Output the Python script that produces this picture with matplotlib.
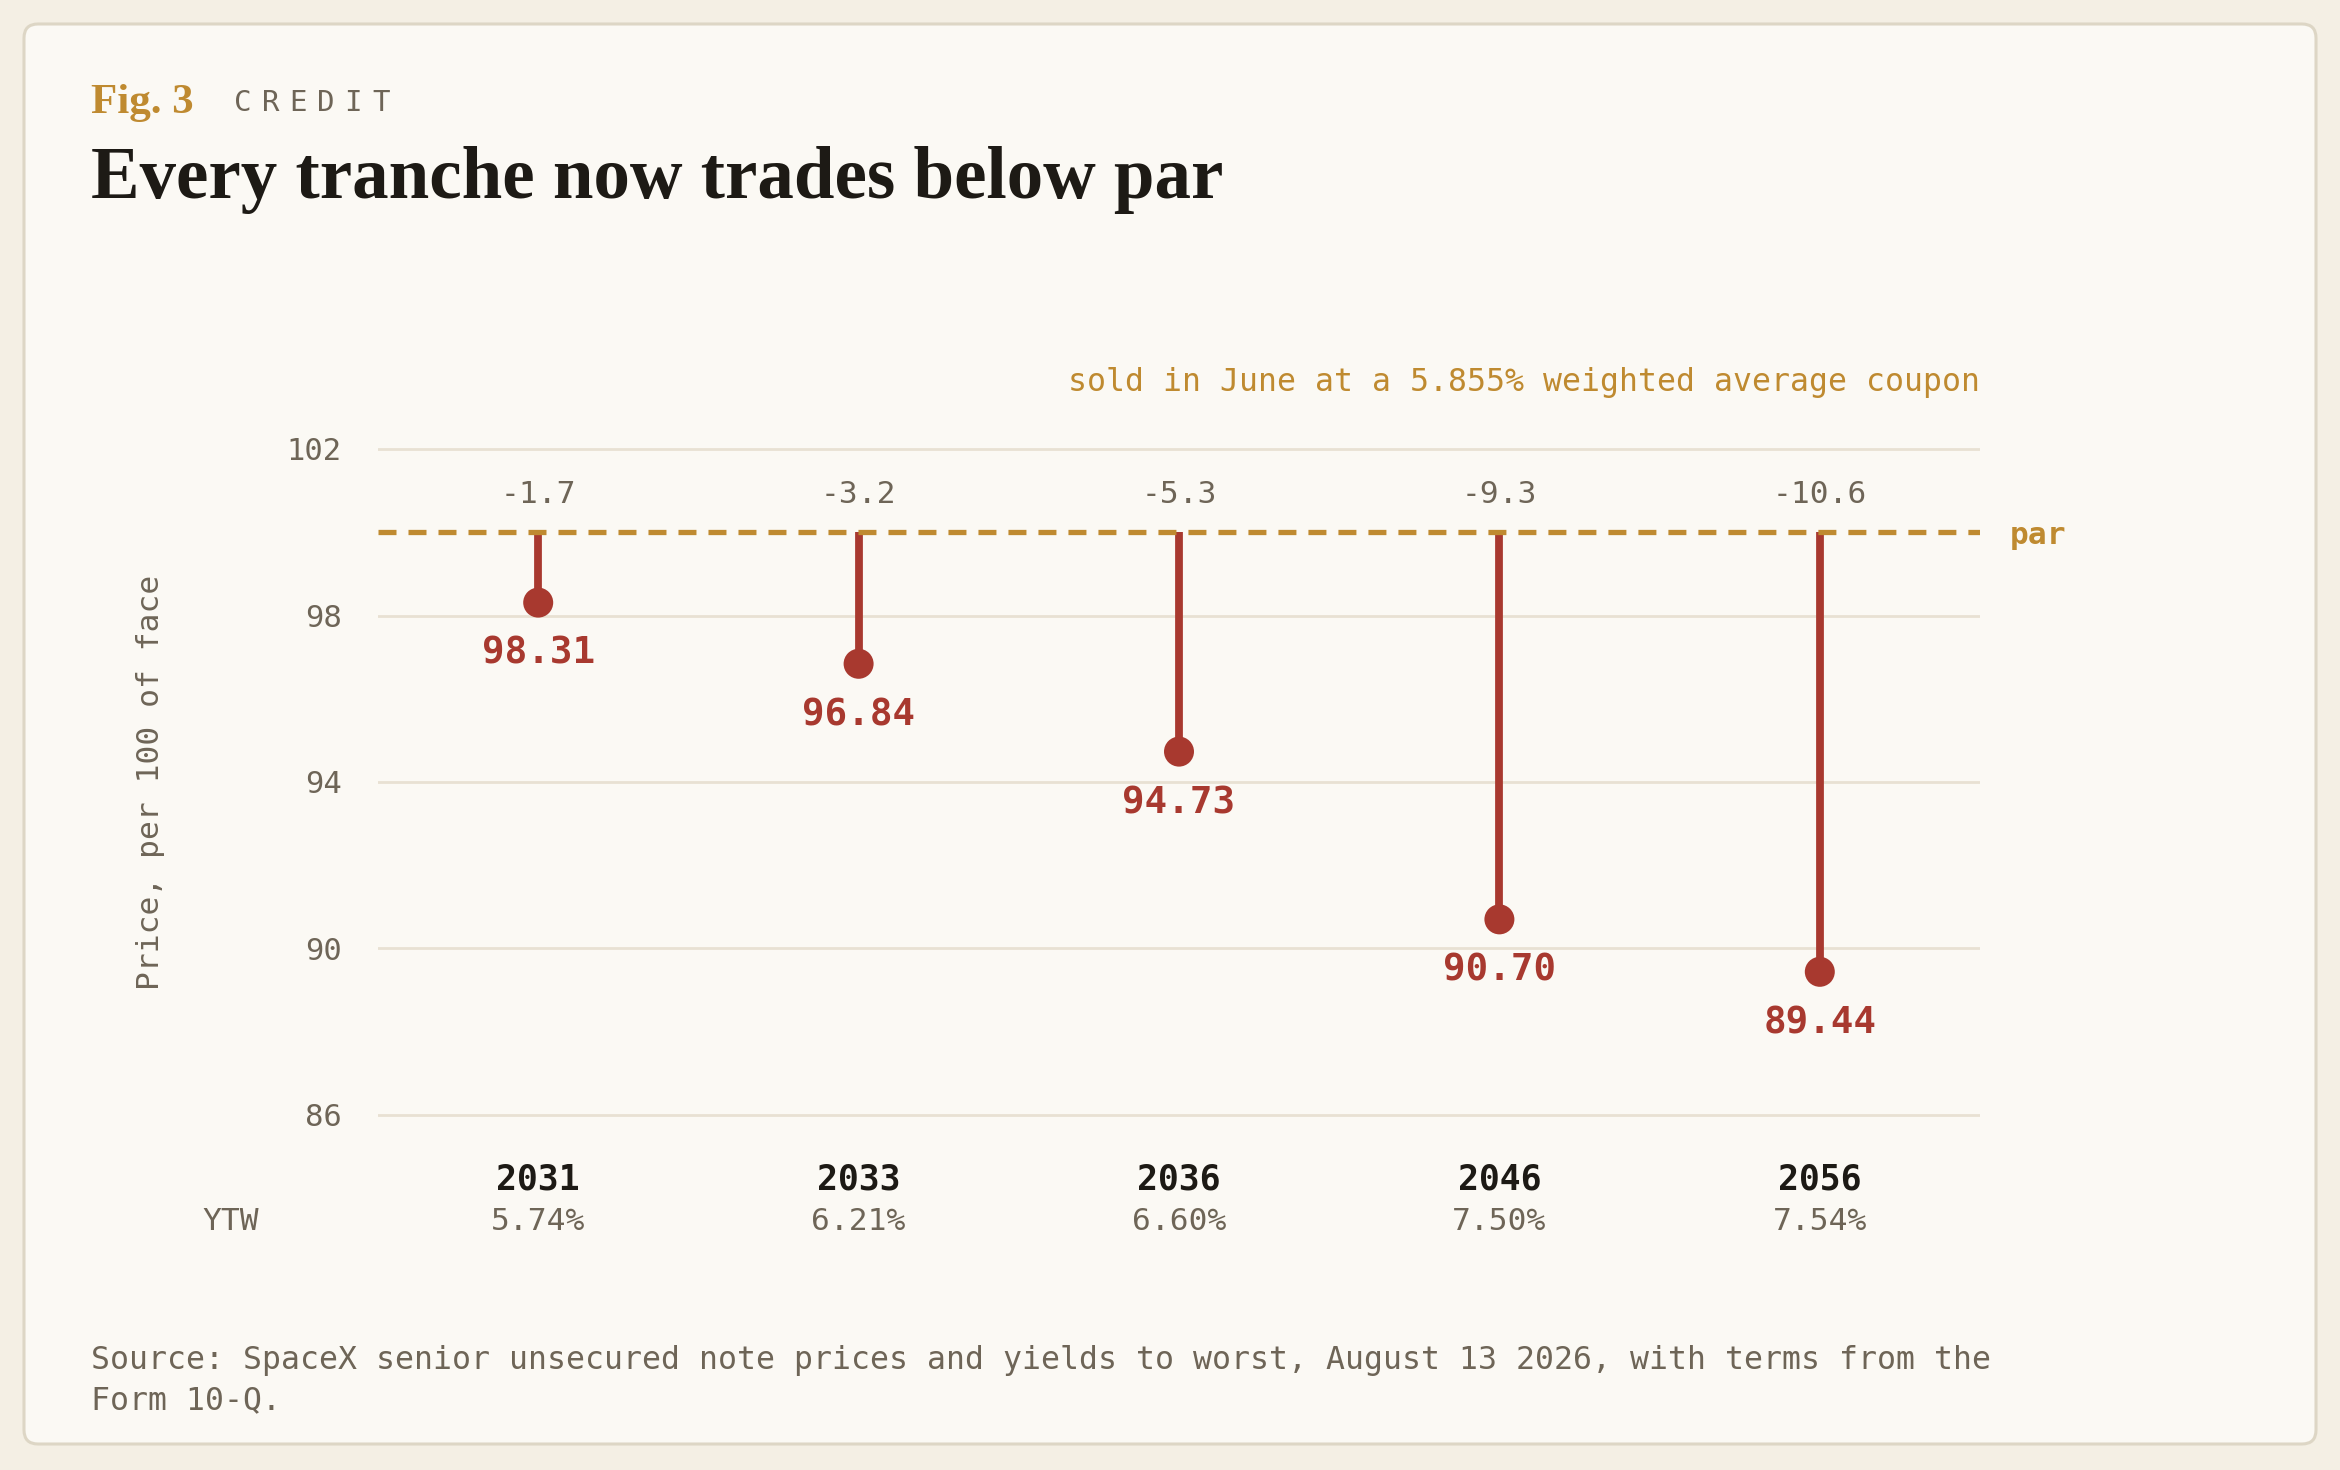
import matplotlib.pyplot as plt
from matplotlib.patches import FancyBboxPatch
from matplotlib.transforms import IdentityTransform, blended_transform_factory
import numpy as np

# data
years = ["2031", "2033", "2036", "2046", "2056"]
prices = [98.31, 96.84, 94.73, 90.70, 89.44]
ytw = ["5.74%", "6.21%", "6.60%", "7.50%", "7.54%"]
PAR = 100.0
y_ticks = [86, 90, 94, 98, 102]

# colours
OUTER = "#F4EFE4"
CARD = "#FBF9F4"
EDGE = "#DDD6C5"
GOLD = "#BF8A30"
RED = "#A8392F"
GRAY = "#6E6557"
DARK = "#1D1A15"
GRID = "#E8E1D3"

MONO = "DejaVu Sans Mono"
SERIF = "Liberation Serif"

W, H = 2340, 1470
fig = plt.figure(figsize=(W / 100, H / 100), dpi=100)
fig.patch.set_facecolor(OUTER)

card = FancyBboxPatch((24, 26), 2292, 1420, boxstyle="round,pad=0,rounding_size=14",
                      transform=IdentityTransform(), facecolor=CARD, edgecolor=EDGE, lw=2.2, zorder=-10)
fig.add_artist(card)

# header
fig.text(91 / W, 1 - 113 / H, "Fig. 3", family=SERIF, weight="bold", size=31, color=GOLD, va="baseline")
for i, ch in enumerate("CREDIT"):
    fig.text((234 + i * 27.6) / W, 1 - 111 / H, ch, family=MONO, size=21, color=GRAY, va="baseline")
fig.text(91 / W, 1 - 198 / H, "Every tranche now trades below par", family=SERIF, weight="bold",
         size=52.5, color=DARK, va="baseline")

# axes: 102 at y=449px, 86 at y=1115px
ppu = (1115 - 449) / 16.0
lo, hi = 85.8, 102.2
top_px = 449 - (hi - 102) * ppu
bot_px = 1115 + (86 - lo) * ppu
ax = fig.add_axes([378 / W, 1 - bot_px / H, 1602 / W, (bot_px - top_px) / H])
ax.set_facecolor("none")
ax.set_xlim(-0.5, len(years) - 0.5)
ax.set_ylim(lo, hi)
for s in ax.spines.values():
    s.set_visible(False)
ax.set_xticks([])
ax.set_yticks(y_ticks)
ax.set_yticklabels([str(t) for t in y_ticks], family=MONO, size=22, color=GRAY)
ax.tick_params(axis="y", length=0, pad=26)
for t in y_ticks:
    ax.axhline(t, color=GRID, lw=2, zorder=1)

ax.set_ylabel("Price, per 100 of face", family=MONO, size=22.5, color=GRAY, labelpad=88)

x = np.arange(len(years))
ax.vlines(x, prices, PAR, color=RED, lw=5.6, zorder=3)
ax.scatter(x, prices, s=21.6 ** 2, color=RED, edgecolors="none", zorder=5)
lw_par = 3.8
ax.axhline(PAR, color=GOLD, lw=lw_par, zorder=4, linestyle=(0, (18 / 1.389 / lw_par, 12 / 1.389 / lw_par)))

ax.annotate("par", (1.0187, PAR), xycoords=blended_transform_factory(ax.transAxes, ax.transData),
            xytext=(0, -2), textcoords="offset points",
            family=MONO, weight="bold", size=22.5, color=GOLD, va="center", ha="left", annotation_clip=False)

dy = 3 / H  # small downward nudge for centred mono text
for xi, p in zip(x, prices):
    ax.text(xi, 100.9, f"{p - PAR:.1f}", family=MONO, size=22.5, color=GRAY, ha="center", va="center")
    ax.annotate(f"{p:.2f}", (xi, p), xytext=(0, -37), textcoords="offset points",
                family=MONO, weight="bold", size=27, color=RED, ha="center", va="center")

bt = blended_transform_factory(ax.transData, fig.transFigure)
for xi, yr, yv in zip(x, years, ytw):
    ax.text(xi, 1 - 1176 / H - dy, yr, transform=bt, family=MONO, weight="bold", size=25, color=DARK,
            ha="center", va="center", clip_on=False)
    ax.text(xi, 1 - 1219 / H - dy, yv, transform=bt, family=MONO, size=22.5, color=GRAY,
            ha="center", va="center", clip_on=False)
fig.text(231 / W, 1 - 1219 / H - dy, "YTW", family=MONO, size=22.5, color=GRAY, ha="center", va="center")

fig.text(1980 / W, 1 - 379 / H - dy, "sold in June at a 5.855% weighted average coupon", family=MONO,
         size=22.7, color=GOLD, ha="right", va="center")

fig.text(91 / W, 1 - 1357 / H - dy,
         "Source: SpaceX senior unsecured note prices and yields to worst, August 13 2026, with terms from the",
         family=MONO, size=22.7, color=GRAY, ha="left", va="center")
fig.text(91 / W, 1 - 1398 / H - dy, "Form 10-Q.", family=MONO, size=22.7, color=GRAY, ha="left", va="center")

fig.savefig("out.png", dpi=100, facecolor=OUTER)
